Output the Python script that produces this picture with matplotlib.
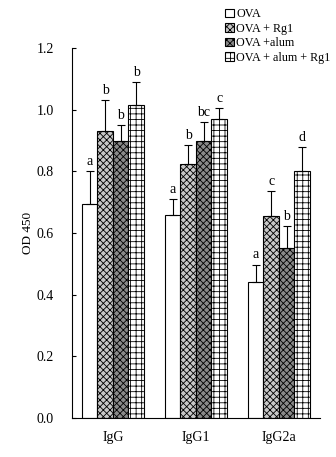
import matplotlib
matplotlib.use('Agg')
import matplotlib.pyplot as plt
import numpy as np

plt.rcParams['font.family'] = ['Liberation Serif', 'DejaVu Serif']
plt.rcParams['hatch.linewidth'] = 0.6

# data
groups = ['IgG', 'IgG1', 'IgG2a']
series = ['OVA', 'OVA + Rg1', 'OVA +alum', 'OVA + alum + Rg1']
ova = [0.695, 0.66, 0.44]
ova_rg1 = [0.93, 0.825, 0.655]
ova_alum = [0.90, 0.90, 0.552]
ova_alum_rg1 = [1.015, 0.97, 0.80]
err_ova = [0.105, 0.05, 0.058]
err_rg1 = [0.10, 0.06, 0.08]
err_alum = [0.05, 0.06, 0.07]
err_alum_rg1 = [0.075, 0.035, 0.08]
letters = [['a', 'a', 'a'], ['b', 'b', 'c'], ['b', 'bc', 'b'], ['b', 'c', 'd']]

values = [ova, ova_rg1, ova_alum, ova_alum_rg1]
errors = [err_ova, err_rg1, err_alum, err_alum_rg1]
faces = ['white', '#c8c8c8', '#8a8a8a', 'white']
hatches = [None, 'xxxxx', 'xxxxx', '+++']

fig = plt.figure(figsize=(3.36, 4.57), dpi=100)
ax = fig.add_axes([0.214, 0.085, 0.738, 0.81])

x = np.arange(len(groups))
w = 0.187
for i in range(4):
    pos = x + (i - 1.5) * w
    ax.bar(pos, values[i], w, color=faces[i], edgecolor='black', linewidth=0.8,
           hatch=hatches[i], label=series[i])
    ax.errorbar(pos, values[i], yerr=[np.zeros(3), errors[i]], fmt='none',
                ecolor='black', elinewidth=0.8, capsize=3, capthick=0.8)
    for j in range(3):
        ax.text(pos[j], values[i][j] + errors[i][j] + 0.01, letters[i][j],
                ha='center', va='bottom', fontsize=10)

ax.set_xlim(-0.494, 2.494)
ax.set_ylim(0, 1.2)
ax.set_yticks(np.arange(0, 1.21, 0.2))
ax.set_yticklabels(['%.1f' % v for v in np.arange(0, 1.21, 0.2)], fontsize=10)
ax.set_xticks(x)
ax.set_xticklabels(groups, fontsize=10)
ax.tick_params(axis='y', direction='in', length=3, pad=13)
ax.tick_params(axis='x', length=0, pad=9)
ax.set_ylabel('OD 450', fontsize=9.5, labelpad=2)
for s in ['top', 'right']:
    ax.spines[s].set_visible(False)

fig.legend(loc='upper left', bbox_to_anchor=(0.645, 1.0), frameon=False,
           fontsize=8.7, handlelength=0.7, handleheight=0.7, handletextpad=0.2,
           labelspacing=0.2, borderpad=0.2)

fig.savefig('out.png', dpi=100)
